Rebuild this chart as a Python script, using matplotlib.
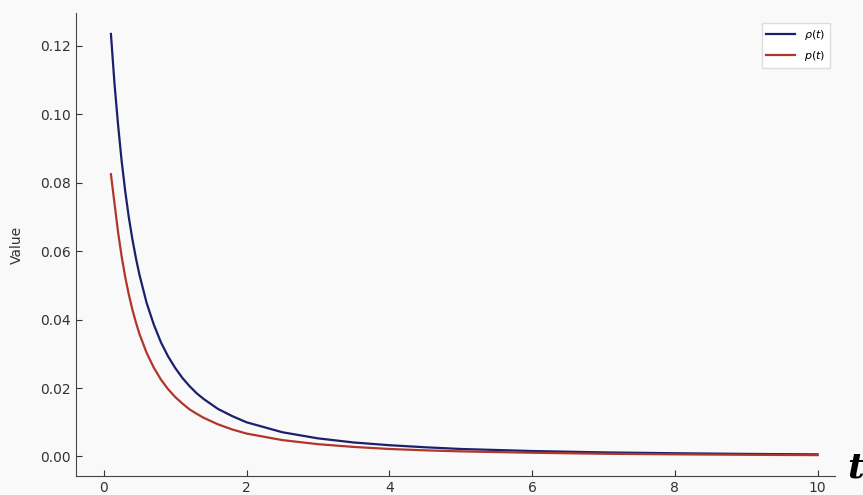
import matplotlib
matplotlib.use('Agg')
import matplotlib.pyplot as plt

# values
t = [0.1, 0.15, 0.2, 0.25, 0.3, 0.35, 0.4, 0.45, 0.5, 0.6, 0.7, 0.8, 0.9, 1.0,
     1.1, 1.2, 1.3, 1.4, 1.6, 1.8, 2.0, 2.5, 3.0, 3.5, 4.0, 4.5, 5.0, 6.0, 7.0,
     8.0, 9.0, 10.0]
rho = [0.1235, 0.109, 0.097, 0.0864, 0.0776, 0.0700, 0.0636, 0.0580, 0.0531,
       0.0449, 0.0386, 0.0334, 0.0293, 0.0259, 0.0230, 0.0206, 0.0185, 0.0168,
       0.0139, 0.0118, 0.0100, 0.0071, 0.0053, 0.0041, 0.0033, 0.0027, 0.0022,
       0.0016, 0.0012, 0.00095, 0.00076, 0.00062]
p = [0.0825, 0.0740, 0.0656, 0.0585, 0.0525, 0.0474, 0.0430, 0.0392, 0.0358,
     0.0303, 0.0260, 0.0225, 0.0197, 0.0174, 0.0155, 0.0138, 0.0125, 0.0113,
     0.0094, 0.0079, 0.0067, 0.0048, 0.0036, 0.0028, 0.0022, 0.0018, 0.0015,
     0.0011, 0.0008, 0.00063, 0.0005, 0.0004]

bg = '#f9f9f9'
fig = plt.figure(figsize=(8.63, 4.95), dpi=100, facecolor=bg)
ax = fig.add_axes([0.088, 0.038, 0.880, 0.936], facecolor=bg)

ax.plot(t, rho, color='#1c1f6b', lw=1.6, label=r'$\rho(t)$')
ax.plot(t, p, color='#b0362c', lw=1.6, label=r'$p(t)$')

ax.set_xlim(-0.39, 10.25)
ax.set_xticks([0, 2, 4, 6, 8, 10])
ax.set_yticks([0.00, 0.02, 0.04, 0.06, 0.08, 0.10, 0.12])
ax.set_ylabel('Value', fontsize=10, color='#333333', labelpad=12)
ax.tick_params(direction='in', labelsize=10, colors='#333333', length=4)
for s in ['top', 'right']:
    ax.spines[s].set_visible(False)
for s in ['left', 'bottom']:
    ax.spines[s].set_color('#444444')

leg = ax.legend(loc='upper right', fontsize=8, fancybox=False, framealpha=1,
                handlelength=2.6, labelspacing=0.7, bbox_to_anchor=(1.0, 0.99))
leg.get_frame().set_edgecolor('#dddddd')
leg.get_frame().set_facecolor('white')

fig.text(0.982, 0.055, 't', fontsize=26, style='italic', weight='bold',
         family='DejaVu Serif', ha='left', va='center')

plt.savefig('out.png', dpi=100, facecolor=bg)
